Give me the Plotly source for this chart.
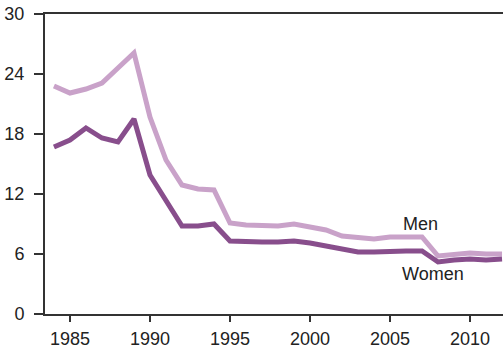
import plotly.graph_objects as go

years = list(range(1984, 2013))
men = [22.8, 22.1, 22.5, 23.1, 24.6, 26.1, 19.7, 15.4, 12.9, 12.5, 12.4, 9.1, 8.9,
       8.9, 8.8, 9.0, 8.7, 8.4, 7.8, 7.6, 7.5, 7.7, 7.7, 7.7, 5.8, 6.0, 6.1, 6.0, 6.0]
women = [16.7, 17.4, 18.6, 17.6, 17.2, 19.5, 13.9, 11.3, 8.8, 8.8, 9.0, 7.3, 7.2,
         7.2, 7.2, 7.3, 7.1, 6.8, 6.4, 6.2, 6.2, 6.3, 6.3, 6.3, 5.2, 5.4, 5.5, 5.4, 5.5]
y_ticks = [0, 6, 12, 18, 24, 30]
x_ticks = [1985, 1990, 1995, 2000, 2005, 2010]

font_family = "Liberation Sans, Arial, sans-serif"

fig = go.Figure()
fig.add_trace(go.Scatter(x=years, y=men, mode="lines", name="Men",
                         line=dict(color="#c9a2c9", width=5)))
fig.add_trace(go.Scatter(x=years, y=women, mode="lines", name="Women",
                         line=dict(color="#884e8c", width=5)))

fig.add_annotation(x=2006.9, y=9.0, text="Men", showarrow=False,
                   font=dict(size=18, color="#222"))
fig.add_annotation(x=2007.7, y=4.0, text="Women", showarrow=False,
                   font=dict(size=18, color="#222"))

fig.update_layout(
    width=503, height=346,
    margin=dict(l=45, r=0, t=14, b=32),
    paper_bgcolor="white", plot_bgcolor="white",
    showlegend=False,
    font=dict(family=font_family, size=18, color="#222"),
    xaxis=dict(range=[1983.44, 2012.06], tickvals=x_ticks, showgrid=False,
               zeroline=False, showline=True, linecolor="#333", linewidth=2,
               mirror=True, ticks="outside", ticklen=6, tickwidth=1.5,
               tickcolor="#333", ticklabelstandoff=1, automargin=False),
    yaxis=dict(range=[0, 30], tickvals=y_ticks, showgrid=False, zeroline=False,
               showline=True, linecolor="#333", linewidth=2, ticks="outside",
               ticklen=9, tickwidth=1.5, tickcolor="#333", ticklabelstandoff=6,
               automargin=False),
)

# drop the default 8px body margin so the figure fills the window
fig.write_html("out.html", config={"displayModeBar": False},
               post_script="document.body.style.margin = '0';")
